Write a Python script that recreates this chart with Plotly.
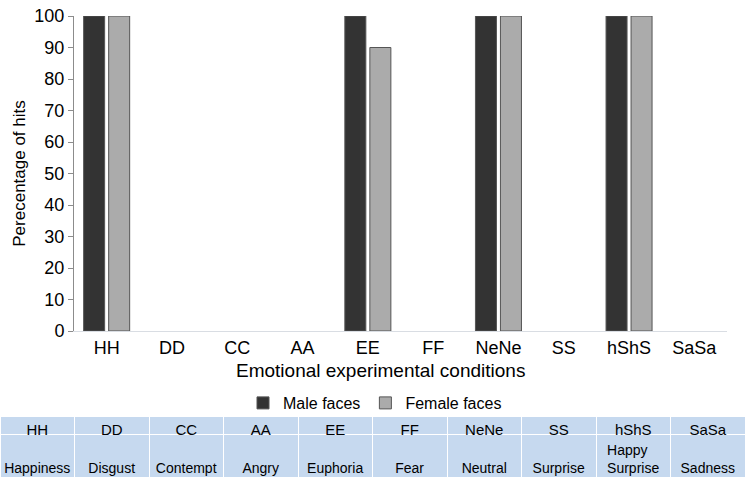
import plotly.graph_objects as go

categories = ["HH", "DD", "CC", "AA", "EE", "FF", "NeNe", "SS", "hShS", "SaSa"]
male_faces = [100, 0, 0, 0, 100, 0, 100, 0, 100, 0]
female_faces = [100, 0, 0, 0, 90, 0, 100, 0, 100, 0]
names = ["Happiness", "Disgust", "Contempt", "Angry", "Euphoria", "Fear", "Neutral",
         "Surprise", "Happy<br>Surprise", "Sadness"]
x_title = "Emotional experimental conditions"
y_title = "Perecentage of hits"

W, H = 745, 477
FONT = "Liberation Sans, Arial, sans-serif"


def outline(vals):
    return [1 if v > 0 else 0 for v in vals]


fig = go.Figure()
fig.add_trace(go.Bar(x=categories, y=male_faces, name="Male faces",
                     marker=dict(color="#333333",
                                 line=dict(color="#555555", width=outline(male_faces)))))
fig.add_trace(go.Bar(x=categories, y=female_faces, name="Female faces",
                     marker=dict(color="#ababab",
                                 line=dict(color="#555555", width=outline(female_faces)))))

cell_text = [("\u00a0<br>" + n) if "<br>" not in n else n for n in names]
fig.add_trace(go.Table(
    domain=dict(x=[0, 1], y=[0, 1 - 416 / H]),
    columnwidth=[1] * 10,
    header=dict(values=categories, fill_color="#c6d9ef", line=dict(color="white", width=1),
                align="center", height=18, font=dict(family=FONT, size=15, color="black")),
    cells=dict(values=[[t] for t in cell_text], fill_color="#c6d9ef",
               line=dict(color="white", width=1), align="center", height=40,
               font=dict(family=FONT, size=14, color="black")),
))

fig.add_annotation(text=x_title, xref="paper", yref="paper", x=380 / W, y=1 - 370 / H,
                   xanchor="center", yanchor="middle", showarrow=False,
                   font=dict(family=FONT, size=19, color="black"))

fig.update_layout(
    width=W, height=H,
    margin=dict(l=0, r=0, t=0, b=0),
    paper_bgcolor="white", plot_bgcolor="white",
    font=dict(family=FONT, size=15, color="black"),
    barmode="group", bargap=0.234, bargroupgap=0.16,
    showlegend=True,
    legend=dict(orientation="h", x=375 / W, xanchor="center", y=1 - 386 / H, yanchor="top",
                font=dict(size=16), itemwidth=30, traceorder="normal",
                bgcolor="rgba(0,0,0,0)"),
    xaxis=dict(domain=[74 / W, 727 / W], anchor="y", showline=True, linecolor="#d9dde3",
               linewidth=1, ticks="", tickfont=dict(size=18), automargin=False),
    yaxis=dict(domain=[1 - 331 / H, 1 - 16 / H], range=[0, 100], showline=True,
               linecolor="#8c8c8c", linewidth=1, ticks="outside", ticklen=5, tickcolor="#8c8c8c",
               tickvals=[0, 10, 20, 30, 40, 50, 60, 70, 80, 90, 100], showgrid=False,
               zeroline=False, tickfont=dict(size=18), automargin=False,
               title=dict(text=y_title, font=dict(size=17), standoff=4)),
)

fig.write_html("out.html")
